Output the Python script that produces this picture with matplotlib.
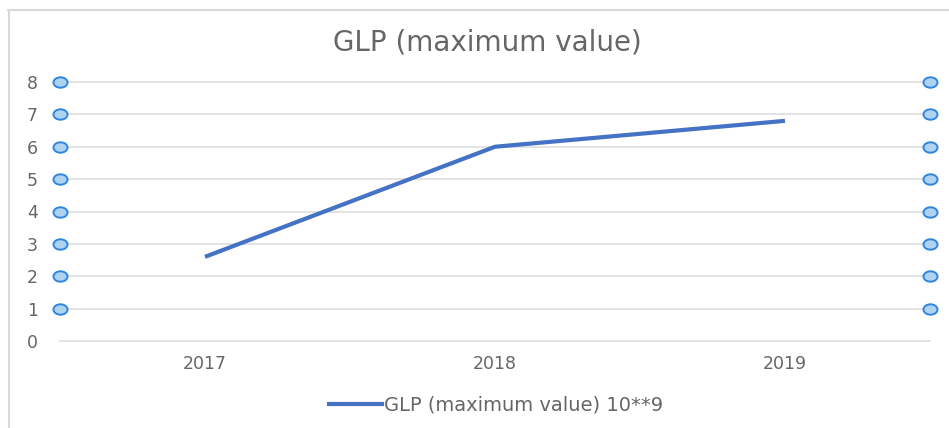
import matplotlib
matplotlib.use('Agg')
import matplotlib.pyplot as plt
from matplotlib.lines import Line2D
from matplotlib.markers import MarkerStyle
from matplotlib.transforms import Affine2D

years = ['2017', '2018', '2019']
glp_max = [2.6, 6.0, 6.8]
y_ticks = [0, 1, 2, 3, 4, 5, 6, 7, 8]
series_label = 'GLP (maximum value) 10**9'
title = 'GLP (maximum value)'

W, H = 949, 428
fig = plt.figure(figsize=(W / 100, H / 100), dpi=100)
plt.rcParams['font.family'] = 'DejaVu Sans'

# chart border (top and left visible)
fig.add_artist(Line2D([8 / W, 1], [1 - 10 / H, 1 - 10 / H], color='#d9d9d9', lw=1.5))
fig.add_artist(Line2D([9 / W, 9 / W], [0, 1 - 10 / H], color='#d9d9d9', lw=1.5))

ax = fig.add_axes([60 / W, (H - 341) / H, 870 / W, 259 / H])
x = [i + 0.5 for i in range(len(years))]
ax.plot(x, glp_max, color='#4472c4', lw=3, solid_capstyle='butt', zorder=3)
ax.set_xlim(0, len(years))
ax.set_ylim(0, 8)

for t in y_ticks:
    ax.axhline(t, color='#dedede', lw=1.2, zorder=1, clip_on=False)
# selection handles on gridlines
handle = MarkerStyle('o', transform=Affine2D().scale(1.35, 1.0))
for t in y_ticks[1:]:
    ax.plot([0, len(years)], [t, t], ls='none', marker=handle, ms=7.5,
            mfc='#b0d2f2', mec='#2e86de', mew=1.4, clip_on=False, zorder=4)

ax.set_xticks(x)
ax.set_xticklabels(years)
ax.set_yticks(y_ticks)
ax.tick_params(length=0, labelsize=12.5, labelcolor='#666666')
ax.tick_params(axis='y', pad=16)
ax.tick_params(axis='x', pad=10)
for s in ax.spines.values():
    s.set_visible(False)

fig.text(487 / W, 1 - 42 / H, title, ha='center', va='center', fontsize=20, color='#666666')

leg = fig.legend([Line2D([], [], color='#4472c4', lw=3)], [series_label],
                 loc='center', bbox_to_anchor=(496 / W, 1 - 405 / H), frameon=False,
                 fontsize=14, handlelength=2.7, handletextpad=0.1, labelcolor='#666666')

fig.savefig('out.png', dpi=100)
